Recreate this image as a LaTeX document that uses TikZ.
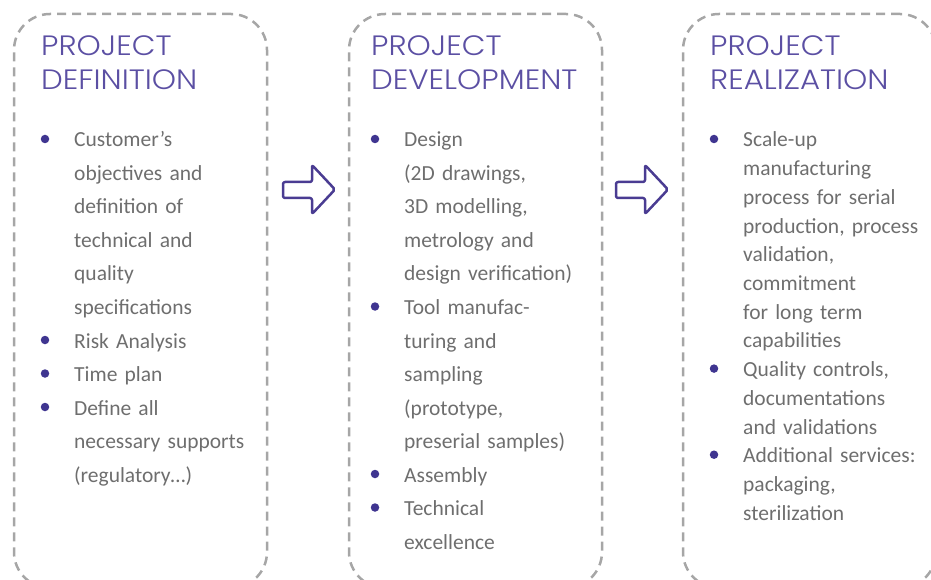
\documentclass[tikz,border=0pt]{standalone}
\usepackage{fontspec}
\setmainfont{Carlito}
\newfontfamily\titlefont{Poppins Light}[FakeStretch=1.1]
\definecolor{bordergray}{HTML}{A6A6A6}
\definecolor{titlepurple}{HTML}{5B4FA3}
\definecolor{bulletpurple}{HTML}{3F3590}
\definecolor{textgray}{HTML}{6E6E6E}
\definecolor{arrowpurple}{HTML}{4A3C92}
\begin{document}
\begin{tikzpicture}[x=1pt,y=-1pt,
  panel/.style={draw=bordergray, line width=2.5pt, dash pattern=on 9pt off 6pt,
    rounded corners=36pt, minimum width=253pt, minimum height=574pt, inner sep=0pt},
  paneltitle/.style={anchor=base west, inner sep=0pt, text=titlepurple, text width=240pt,
    align=left, font=\titlefont\fontsize{28}{34}\selectfont},
  itemtext/.style={anchor=base west, inner sep=0pt, text=textgray, text width=200pt,
    align=left, font=\fontsize{21.5}{33.5}\selectfont},
  itemtextc/.style={itemtext, font=\fontsize{21.5}{28.7}\selectfont},
  dot/.style={circle, fill=bulletpurple, inner sep=0pt, minimum size=8.5pt},
  blockarrow/.style={draw=arrowpurple, line width=2.5pt, line join=round, rounded corners=2pt}
]
\useasboundingbox (0,0) rectangle (931,580);

% panels
\node[panel] (p1) at (140.5,301) {};
\node[panel] (p2) at (475.5,301) {};
\node[panel] (p3) at (809.5,301) {};

% titles
\node[paneltitle] (t1) at (41,56) {PROJECT\\DEFINITION};
\node[paneltitle] (t2) at (371,56) {PROJECT\\DEVELOPMENT};
\node[paneltitle] (t3) at (710,56) {PROJECT\\REALIZATION};

% panel 1 items
\node[dot] (b11) at (45,139) {};
\node[itemtext] (i11) at (74,147) {Customer’s\\objectives and\\definition of\\technical and\\quality\\specifications};
\node[dot] (b12) at (45,340) {};
\node[itemtext] (i12) at (74,348) {Risk Analysis};
\node[dot] (b13) at (45,373.5) {};
\node[itemtext] (i13) at (74,381.5) {Time plan};
\node[dot] (b14) at (45,407) {};
\node[itemtext] (i14) at (74,415) {Define all\\necessary supports\\(regulatory…)};

% panel 2 items
\node[dot] (b21) at (375,139) {};
\node[itemtext] (i21) at (404,147) {Design\\(2D drawings,\\3D modelling,\\metrology and\\design verification)};
\node[dot] (b22) at (375,306.5) {};
\node[itemtext] (i22) at (404,314.5) {Tool manufac-\\turing and\\sampling\\(prototype,\\preserial samples)};
\node[dot] (b23) at (375,474) {};
\node[itemtext] (i23) at (404,482) {Assembly};
\node[dot] (b24) at (375,507.5) {};
\node[itemtext] (i24) at (404,515.5) {Technical\\excellence};

% panel 3 items
\node[dot] (b31) at (714,139) {};
\node[itemtextc] (i31) at (743,147) {Scale-up\\manufacturing\\process for serial\\production, process\\validation,\\commitment\\for long term\\capabilities};
\node[dot] (b32) at (714,368.6) {};
\node[itemtextc] (i32) at (743,376.6) {Quality controls,\\documentations\\and validations};
\node[dot] (b33) at (714,454.7) {};
\node[itemtextc] (i33) at (743,462.7) {Additional services:\\packaging,\\sterilization};

% block arrows between panels
\draw[blockarrow] (283,182) -- (312,182) -- (312,165) -- (335,189.5) -- (312,214) -- (312,198) -- (283,198) -- cycle;
\draw[blockarrow] (616,182) -- (645,182) -- (645,165) -- (668,189.5) -- (645,214) -- (645,198) -- (616,198) -- cycle;
\end{tikzpicture}
\end{document}
